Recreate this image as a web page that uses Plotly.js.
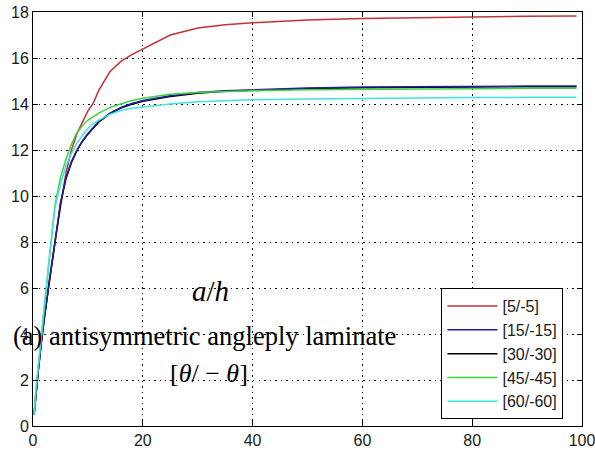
<!DOCTYPE html>
<html>
<head>
<meta charset="utf-8">
<script src="https://cdn.plot.ly/plotly-3.0.1.min.js"></script>
<style>html,body{margin:0;padding:0;background:#fff;}#chart{width:595px;height:452px;}</style>
</head>
<body>
<div id="chart"></div>
<script>
// a/h values (x)
const aOverH = [0.2, 0.5, 1, 1.5, 2, 3, 4, 5, 6, 7, 8, 9, 10, 11, 12, 14, 16, 18, 20, 25, 30, 35, 40, 50, 60, 70, 80, 90, 99];
// series values (y)
const s5  = [0.5, 1.4, 2.5, 3.6, 4.6, 6.4, 8.0, 9.6, 11.0, 12.0, 12.7, 13.2, 13.7, 14.05, 14.6, 15.4, 15.85, 16.15, 16.4, 17.0, 17.3, 17.45, 17.53, 17.65, 17.72, 17.76, 17.8, 17.82, 17.83];
const s15 = [0.5, 1.4, 2.5, 3.6, 4.6, 6.3, 8.0, 9.7, 10.8, 11.5, 12.0, 12.4, 12.72, 13.0, 13.25, 13.6, 13.85, 14.02, 14.15, 14.36, 14.5, 14.58, 14.63, 14.7, 14.74, 14.76, 14.77, 14.78, 14.78];
const s30 = [0.5, 1.4, 2.5, 3.6, 4.6, 6.3, 8.0, 9.65, 10.75, 11.45, 11.97, 12.37, 12.69, 12.97, 13.22, 13.57, 13.82, 13.99, 14.12, 14.33, 14.47, 14.55, 14.6, 14.67, 14.71, 14.73, 14.74, 14.75, 14.75];
const s45 = [0.5, 1.5, 2.7, 3.9, 5.1, 7.5, 9.6, 10.8, 11.6, 12.25, 12.75, 13.05, 13.3, 13.45, 13.6, 13.85, 14.0, 14.15, 14.25, 14.42, 14.5, 14.55, 14.58, 14.62, 14.64, 14.66, 14.67, 14.68, 14.68];
const s60 = [0.5, 1.5, 2.7, 3.9, 5.1, 7.4, 9.5, 10.5, 11.3, 11.85, 12.3, 12.65, 12.95, 13.15, 13.3, 13.55, 13.72, 13.82, 13.88, 14.0, 14.1, 14.15, 14.18, 14.22, 14.25, 14.27, 14.28, 14.29, 14.29];
const seriesNames = ['[5/-5]', '[15/-15]', '[30/-30]', '[45/-45]', '[60/-60]'];
const seriesData = [s5, s15, s30, s45, s60];
const seriesColors = ['#c4303a', '#22229a', '#000000', '#3fd23f', '#40e2e2'];
// drawing order (black under blue so the blue stays visible); legend order kept via legendrank
const drawOrder = [0, 2, 1, 3, 4];
const xTicks = [0, 20, 40, 60, 80, 100];
const yTicks = [0, 2, 4, 6, 8, 10, 12, 14, 16, 18];

const traces = drawOrder.map(i => ({
  x: aOverH, y: seriesData[i], type: 'scatter', mode: 'lines', name: seriesNames[i],
  legendrank: i + 1,
  line: {color: seriesColors[i], width: 1.5}
}));

const axisCommon = {
  showline: true, linecolor: '#000', linewidth: 1, mirror: 'ticks',
  ticks: 'inside', ticklen: 5, tickcolor: '#000', tickwidth: 1,
  showgrid: true, gridcolor: '#000', gridwidth: 1, griddash: '1.5px,4px',
  zeroline: false, ticklabeloverflow: 'allow',
  tickfont: {family: 'Liberation Sans, Arial, sans-serif', size: 16, color: '#1a1a1a'}
};

const layout = {
  width: 595, height: 452,
  margin: {l: 33, r: 13, t: 12, b: 26},
  paper_bgcolor: '#fff', plot_bgcolor: '#fff',
  showlegend: true,
  xaxis: Object.assign({}, axisCommon, {range: [0, 100], tickvals: xTicks, ticktext: xTicks.map(String)}),
  yaxis: Object.assign({}, axisCommon, {range: [0, 18], tickvals: yTicks, ticktext: yTicks.map(String)}),
  legend: {
    x: 0.744, y: 0.333, xanchor: 'left', yanchor: 'top',
    bgcolor: '#fff', bordercolor: '#000', borderwidth: 1,
    font: {family: 'Liberation Sans, Arial, sans-serif', size: 16, color: '#1a1a1a'},
    itemwidth: 50
  },
  annotations: [
    {xref: 'x', yref: 'y', x: 32.3, y: 5.87, text: '<i>a</i>/<i>h</i>', showarrow: false,
     xanchor: 'center', yanchor: 'middle', font: {family: 'Liberation Serif, Times New Roman, serif', size: 29, color: '#000'}},
    {xref: 'paper', yref: 'y', x: -0.04, y: 3.93, text: '(a) antisymmetric angleply laminate', showarrow: false,
     xanchor: 'left', yanchor: 'middle', font: {family: 'Liberation Serif, Times New Roman, serif', size: 26.5, color: '#000'}},
    {xref: 'x', yref: 'y', x: 32.1, y: 2.3, text: '[<i>θ</i>/ − <i>θ</i>]', showarrow: false,
     xanchor: 'center', yanchor: 'middle', font: {family: 'Liberation Serif, Times New Roman, serif', size: 26, color: '#000'}}
  ]
};

Plotly.newPlot('chart', traces, layout, {displayModeBar: false, staticPlot: true});
</script>
</body>
</html>
